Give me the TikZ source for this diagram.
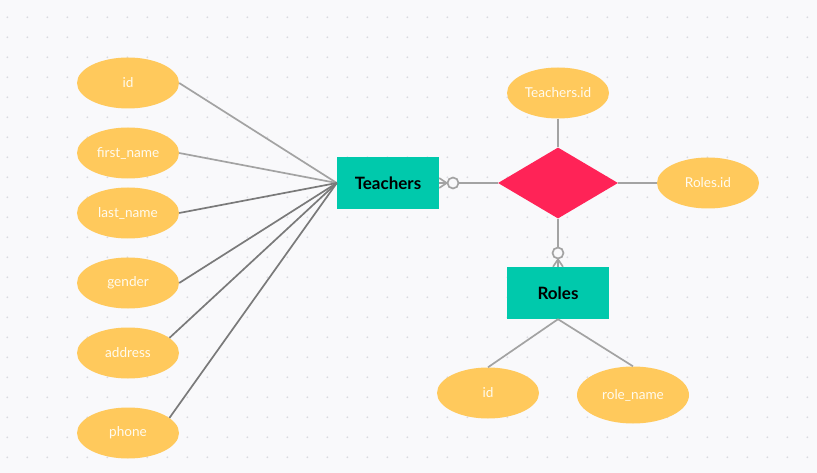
\documentclass[tikz,border=0pt]{standalone}
\usepackage{fontspec}
\setmainfont{Lato}
\usetikzlibrary{shapes.geometric}
\begin{document}
\begin{tikzpicture}[x=1pt,y=-1pt,
  attr/.style={ellipse,fill=attrcol,minimum width=102pt,minimum height=51pt,inner sep=0pt,text=attrtext,font=\fontsize{13.6}{16}\selectfont},
  ent/.style={rectangle,fill=entcol,minimum width=102pt,minimum height=52pt,inner sep=0pt,text=black,font=\fontsize{17}{20}\selectfont\bfseries},
  rel/.style={diamond,fill=relcol,minimum width=120pt,minimum height=71pt,inner sep=0pt,aspect=1.7},
  conn/.style={draw=linecol,line width=1.7pt},
  conndark/.style={draw=linedark,line width=1.7pt},
  ring/.style={circle,draw=linecol,line width=1.7pt,fill=bgcol,minimum size=11pt,inner sep=0pt}
]
\definecolor{bgcol}{HTML}{F9F9FB}
\definecolor{dotcol}{HTML}{DADAE0}
\definecolor{attrcol}{HTML}{FFC95C}
\definecolor{attrtext}{HTML}{FFFBEF}
\definecolor{entcol}{HTML}{00C9AC}
\definecolor{relcol}{HTML}{FF2357}
\definecolor{linecol}{HTML}{A3A3A3}
\definecolor{linedark}{HTML}{7A7A7A}
\fill[bgcol] (0,0) rectangle (817,473);
\useasboundingbox (0,0) rectangle (817,473);
\foreach \i in {0,...,40} {
  \foreach \j in {0,...,22} {
    \fill[dotcol] ({7.3+20*\i},{17.3+20*\j}) circle (1pt);
  }
}
% nodes
\node[ent] (teachers) at (388,183) {Teachers};
\node[ent] (roles) at (558,293) {Roles};
\node[rel] (rel) at (558,183) {};

\node[attr] (aid) at (128,83) {id};
\node[attr] (afn) at (128,153) {first\_name};
\node[attr] (aln) at (128,213) {last\_name};
\node[attr] (agen) at (128,283) {gender};
\node[attr] (aadr) at (128,353) {address};
\node[attr] (aph) at (128,433) {phone};
\node[attr] (tid) at (558,93) {Teachers.id};
\node[attr] (rid) at (708,183) {Roles.id};
\node[attr] (roid) at (488,393) {id};
\node[attr,minimum width=112pt,minimum height=57pt] (rname) at (633,395) {role\_name};

% attribute connectors
\draw[conn] (aid.east) -- (teachers.west);
\draw[conn] (afn.east) -- (teachers.west);
\draw[conndark] (aln.east) -- (teachers.west);
\draw[conndark] (agen.east) -- (teachers.west);
\draw[conndark] (aadr.20) -- (teachers.west);
\draw[conndark] (aph.20) -- (teachers.west);
\draw[conn] (roles.south) -- (roid.north);
\draw[conn] (roles.south) -- (rname.north);
\draw[conn] (tid.south) -- (rel.north);
\draw[conn] (rid.west) -- (rel.east);

% crow's foot Teachers
\node[ring] (c1) at (453,183) {};
\draw[conn] (c1.east) -- (rel.west);
\draw[conn] (teachers.east) -- (c1.west);
\draw[conn] ([yshift=-5pt]teachers.east) -- (c1.west) -- ([yshift=5pt]teachers.east);
% crow's foot Roles
\node[ring] (c2) at (558,253) {};
\draw[conn] (rel.south) -- (c2.north);
\draw[conn] (c2.south) -- (roles.north);
\draw[conn] ([xshift=-5pt]roles.north) -- (c2.south) -- ([xshift=5pt]roles.north);
\end{tikzpicture}
\end{document}
